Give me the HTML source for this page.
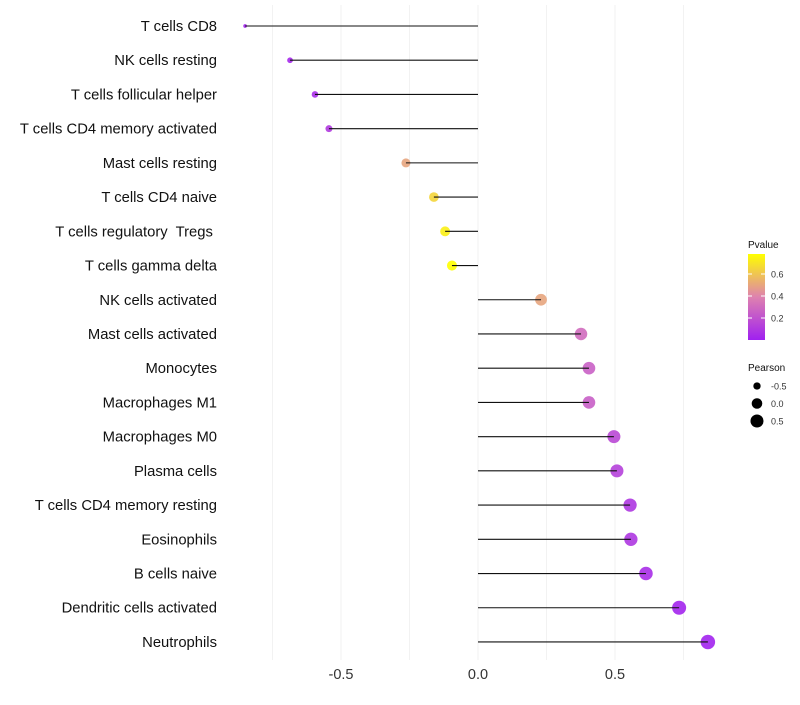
<!DOCTYPE html>
<html><head><meta charset="utf-8"><style>
body{margin:0;background:#fff;font-family:"Liberation Sans",sans-serif}
text{white-space:pre}
</style></head><body>
<svg id="c" width="800" height="700" xmlns="http://www.w3.org/2000/svg" font-family="Liberation Sans, sans-serif"></svg>
<script>
const categories=["T cells CD8","NK cells resting","T cells follicular helper","T cells CD4 memory activated","Mast cells resting","T cells CD4 naive","T cells regulatory  Tregs ","T cells gamma delta","NK cells activated","Mast cells activated","Monocytes","Macrophages M1","Macrophages M0","Plasma cells","T cells CD4 memory resting","Eosinophils","B cells naive","Dendritic cells activated","Neutrophils"];
const pearson=[-0.85,-0.686,-0.595,-0.544,-0.263,-0.161,-0.12,-0.095,0.23,0.376,0.405,0.405,0.496,0.507,0.555,0.558,0.613,0.734,0.839];
const pvalue=[0.01,0.03,0.05,0.1,0.5,0.65,0.73,0.78,0.5,0.3,0.26,0.25,0.16,0.13,0.09,0.09,0.05,0.02,0.01];
const xTicks=[-0.5,0,0.5];
const xMinor=[-0.75,-0.25,0.25,0.75];
const pTicks=[0.2,0.4,0.6];
const sizeTicks=[-0.5,0,0.5];

const svg=document.getElementById('c');
const NS="http://www.w3.org/2000/svg";
const x=v=>478+v*274;
const y=i=>26+i*34.22;
const r=v=>Math.sqrt(Math.max(1.5,28+29*v));
function col(p){const t=Math.max(0,Math.min(1,p/0.78));
 const a=[160,32,240],m=[222,130,175],b=[255,255,0];
 let c;if(t<0.5){const s=t/0.5;c=a.map((v,k)=>v+(m[k]-v)*s);}else{const s=(t-0.5)/0.5;c=m.map((v,k)=>v+(b[k]-v)*s);}
 return `rgb(${c.map(Math.round).join(',')})`;}
function el(tag,attrs,parent){const e=document.createElementNS(NS,tag);for(const k in attrs)e.setAttribute(k,attrs[k]);(parent||svg).appendChild(e);return e;}

xMinor.concat(xTicks).forEach(v=>{const g=el('line',{x1:x(v),x2:x(v),y1:5,y2:660,stroke:'#f2f2f2','stroke-width':1});

});
xTicks.forEach(v=>{const t=el('text',{x:x(v),y:679,'text-anchor':'middle','font-size':14.5,fill:'#333'});t.textContent=v===0?'0.0':v.toFixed(1);

});

categories.forEach((c,i)=>{
 const t=el('text',{x:217,y:y(i)+5,'text-anchor':'end','font-size':14.8,fill:'#111'});t.textContent=c;
 
 
 const pt=el('circle',{cx:x(pearson[i]),cy:y(i),r:r(pearson[i]),fill:col(pvalue[i]),'fill-opacity':0.9});
 
 
 const ln=el('line',{x1:x(0),x2:x(pearson[i]),y1:y(i),y2:y(i),stroke:'#111','stroke-width':1.1});
 
 
});

const lg=el('g',{});


let tt=el('text',{x:748,y:248,'font-size':10,fill:'#111'},lg);tt.textContent='Pvalue';
const defs=el('defs',{},lg);
const grad=el('linearGradient',{id:'pg',x1:0,y1:1,x2:0,y2:0},defs);
for(let s=0;s<=10;s++){el('stop',{offset:s/10,'stop-color':col(0.78*s/10)},grad);}
const bar=el('rect',{x:748,y:254,width:17,height:86,fill:'url(#pg)'},lg);


const py=p=>340-p*110;
pTicks.forEach(p=>{el('line',{x1:748,x2:752,y1:py(p),y2:py(p),stroke:'#fff'},lg);el('line',{x1:761,x2:765,y1:py(p),y2:py(p),stroke:'#fff'},lg);
 const t=el('text',{x:771,y:py(p)+3.5,'font-size':9,fill:'#333'},lg);t.textContent=p.toFixed(1);});
tt=el('text',{x:748,y:371,'font-size':10,fill:'#111'},lg);tt.textContent='Pearson';
sizeTicks.forEach((v,k)=>{const cy=386+k*17.5;const d=el('circle',{cx:757,cy:cy,r:r(v),fill:'#000'},lg);
 
 
 const t=el('text',{x:771,y:cy+3.5,'font-size':9,fill:'#333'},lg);t.textContent=v===0?'0.0':v.toFixed(1);});
</script>
</body></html>
